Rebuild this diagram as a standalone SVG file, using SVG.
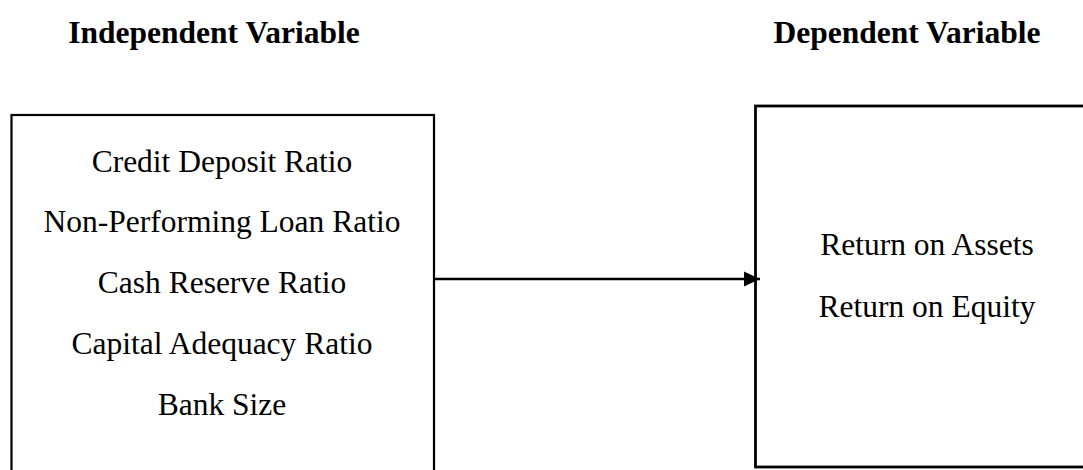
<svg xmlns="http://www.w3.org/2000/svg" width="1083" height="470" viewBox="0 0 1083 470">
  <style>
    .heading { font-family: "Liberation Serif", "Times New Roman", serif; font-size: 31.5px; font-weight: bold; fill: #000; text-anchor: middle; }
    .item { font-family: "Liberation Serif", "Times New Roman", serif; font-size: 31.5px; fill: #000; text-anchor: middle; }
    .box { fill: #fff; stroke: #000; }
    .link { fill: none; stroke: #000; stroke-width: 2.5; }
  </style>
  <defs>
    <marker id="arrowhead" markerWidth="16" markerHeight="16" viewBox="0 0 16 16" refX="16" refY="8" markerUnits="userSpaceOnUse" orient="auto">
      <path d="M0,0.5 L16,8 L0,15.5 Z" fill="#000"/>
    </marker>
  </defs>
  <rect width="1083" height="470" fill="#fff"/>

  <g id="headings">
    <text class="heading" x="214" y="43">Independent Variable</text>
    <text class="heading" x="907" y="43">Dependent Variable</text>
  </g>

  <g id="independent">
    <rect class="box" x="11.5" y="115" width="422.5" height="380" stroke-width="2.2"/>
    <text class="item" x="222" y="172">Credit Deposit Ratio</text>
    <text class="item" x="222" y="232">Non-Performing Loan Ratio</text>
    <text class="item" x="222" y="293">Cash Reserve Ratio</text>
    <text class="item" x="222" y="354">Capital Adequacy Ratio</text>
    <text class="item" x="222" y="415">Bank Size</text>
  </g>

  <g id="dependent">
    <rect class="box" x="755.5" y="106" width="360" height="361" stroke-width="2.8"/>
    <text class="item" x="927" y="255">Return on Assets</text>
    <text class="item" x="927" y="317">Return on Equity</text>
  </g>

  <g id="connectors">
    <line class="link" x1="434" y1="279" x2="760" y2="279" marker-end="url(#arrowhead)"/>
  </g>
</svg>
